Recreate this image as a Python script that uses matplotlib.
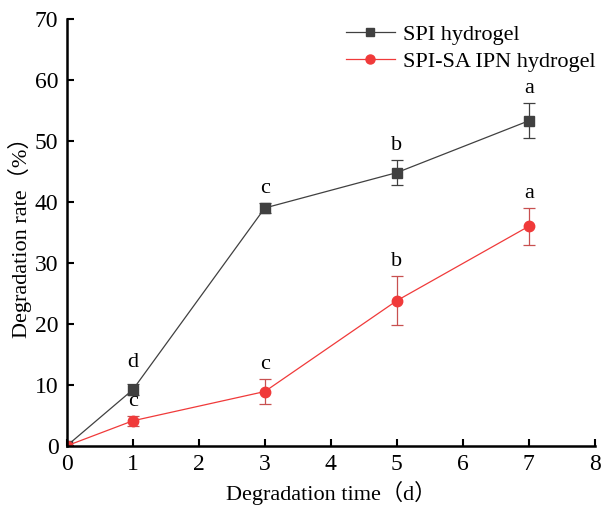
#!/usr/bin/env python3
import matplotlib

matplotlib.use("Agg", force=True)
import matplotlib.pyplot as plt
from matplotlib.lines import Line2D

plt.rcParams["font.family"] = ["Liberation Serif", "Noto Sans CJK SC"]

days = [0, 1, 3, 5, 7]

spi_rate = [0, 9.2, 39.0, 44.8, 53.3]
spi_err = [0, 0.9, 0.8, 2.0, 2.9]
spi_letters = ["", "d", "c", "b", "a"]

ipn_rate = [0, 4.1, 8.9, 23.8, 36.0]
ipn_err = [0, 0.8, 2.0, 4.0, 3.0]
ipn_letters = ["", "c", "c", "b", "a"]

GREY = "#404040"
RED = "#f03a3a"

fig = plt.figure(figsize=(6.02, 5.13), dpi=100)
ax = fig.add_axes([0.111, 0.131, 0.877, 0.832])

ax.errorbar(days, spi_rate, yerr=spi_err, color=GREY, marker="s", ms=7, lw=0.9,
            elinewidth=0.9, capsize=4, capthick=0.9)
ax.errorbar(days, ipn_rate, yerr=ipn_err, color=RED, marker="o", ms=7.5, lw=0.9,
            elinewidth=0.9, capsize=4, capthick=0.9, ecolor="#c85050")

# significance letters
for x, y, e, t in zip(days, spi_rate, spi_err, spi_letters):
    if t:
        dy = 2.4 if x != 1 else 3.5
        ax.text(x, y + e + dy, t, ha="center", va="center", fontsize=16)
for x, y, e, t in zip(days, ipn_rate, ipn_err, ipn_letters):
    if t:
        ax.text(x, y + e + 2.4, t, ha="center", va="center", fontsize=16)

ax.set_xlim(0, 8)
ax.set_ylim(0, 70)
ax.set_xticks(range(0, 9))
ax.set_yticks(range(0, 71, 10))
ax.tick_params(direction="in", length=5, width=1.5, labelsize=17, pad=6)
for s in ("top", "right"):
    ax.spines[s].set_visible(False)
for s in ("left", "bottom"):
    ax.spines[s].set_linewidth(1.8)

ax.set_xlabel("Degradation time（d）", fontsize=16, labelpad=4)
ax.set_ylabel("Degradation rate（%）", fontsize=16, labelpad=2)

handles = [
    Line2D([], [], color=GREY, marker="s", ms=6, lw=0.9, label="SPI hydrogel"),
    Line2D([], [], color=RED, marker="o", ms=6.5, lw=0.9, label="SPI-SA IPN hydrogel"),
]
ax.legend(handles=handles, loc="upper right", frameon=False, fontsize=16,
          handlelength=2.2, handletextpad=0.4, bbox_to_anchor=(1.005, 0.97),
          bbox_transform=fig.transFigure, borderaxespad=0.0, labelspacing=0.3)

fig.savefig("out.png", dpi=100)
